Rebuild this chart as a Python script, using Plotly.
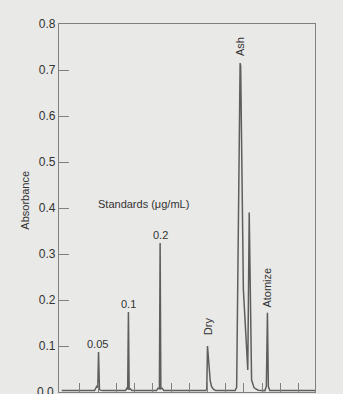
import plotly.graph_objects as go

# Time (arbitrary units, one minor tick per unit) and absorbance trace
time = [0.0, 1.80, 1.92, 1.98, 2.02, 2.04, 2.07, 2.12, 2.25,
        3.50, 3.57, 3.62, 3.66, 3.70, 3.76, 3.85,
        5.20, 5.28, 5.36, 5.40, 5.44, 5.52, 5.60,
        7.90, 7.96, 8.00, 8.05, 8.09, 8.15, 8.22, 8.32, 8.45,
        9.52, 9.60, 9.70, 9.79, 9.82, 9.92, 9.97, 10.07, 10.16, 10.21,
        10.29, 10.42, 10.56, 10.78,
        11.15, 11.23, 11.29, 11.34, 11.42, 13.9]
absorbance = [0.003, 0.003, 0.012, 0.010, 0.087, 0.010, 0.006, 0.004, 0.003,
              0.003, 0.008, 0.006, 0.174, 0.006, 0.007, 0.003,
              0.003, 0.008, 0.007, 0.324, 0.007, 0.008, 0.003,
              0.003, 0.006, 0.100, 0.068, 0.046, 0.024, 0.012, 0.006, 0.003,
              0.003, 0.010, 0.417, 0.715, 0.709, 0.417, 0.222, 0.150, 0.091, 0.048,
              0.390, 0.026, 0.009, 0.004,
              0.003, 0.012, 0.172, 0.012, 0.003, 0.003]

y_ticks = [0.0, 0.1, 0.2, 0.3, 0.4, 0.5, 0.6, 0.7, 0.8]
y_tick_labels = ["0.0", "0.1", "0.2", "0.3", "0.4", "0.5", "0.6", "0.7", "0.8"]
x_ticks = list(range(1, 14))

standard_labels = ["0.05", "0.1", "0.2"]
standard_x = [1.99, 3.64, 5.40]
standard_y = [0.104, 0.191, 0.341]

step_labels = ["Dry", "Ash", "Atomize"]
step_x = [8.0, 9.79, 11.29]
step_y = [0.142, 0.75, 0.228]

font = "Liberation Sans, Arial, sans-serif"
ink = "#333333"
paper = "#e9e9e7"

fig = go.Figure()
fig.add_trace(go.Scatter(x=time, y=absorbance, mode="lines",
                         line=dict(color="#5e5e5e", width=1.5),
                         hoverinfo="skip", showlegend=False))

for t, x, y in zip(standard_labels, standard_x, standard_y):
    fig.add_annotation(x=x, y=y, text=t, showarrow=False,
                       font=dict(family=font, size=11, color=ink))
fig.add_annotation(x=1.87, y=0.409, text="Standards (\u03bcg/mL)", showarrow=False,
                   xanchor="left", font=dict(family=font, size=11, color=ink))
for t, x, y in zip(step_labels, step_x, step_y):
    fig.add_annotation(x=x, y=y, text=t, showarrow=False, textangle=-90,
                       font=dict(family=font, size=11, color=ink))

fig.add_annotation(xref="paper", yref="paper", x=-0.164, y=0.52, text="Absorbance",
                   showarrow=False, textangle=-90,
                   font=dict(family=font, size=11, color=ink))

# bottom tick label (partly cut by the page edge, as in the reference)
fig.add_annotation(xref="paper", yref="y", x=-0.012, y=y_ticks[0], text=y_tick_labels[0],
                   showarrow=False, xanchor="right", yanchor="middle",
                   font=dict(family=font, size=12, color=ink))

fig.update_layout(
    width=343, height=394,
    margin=dict(l=59, r=28, t=24, b=2),
    paper_bgcolor=paper, plot_bgcolor=paper,
    xaxis=dict(range=[-0.15, 13.9], tickvals=x_ticks, ticks="inside", ticklen=9,
               tickcolor="#808080", tickwidth=1, showticklabels=False,
               showgrid=False, zeroline=False, showline=True, linecolor="#808080",
               linewidth=1.3, mirror=True),
    yaxis=dict(range=[0, 0.8], tickvals=y_ticks, ticktext=y_tick_labels,
               ticks="inside", ticklen=10, tickcolor="#808080", tickwidth=1.2,
               showgrid=False, zeroline=False, showline=True, linecolor="#808080",
               linewidth=1.3, mirror=True,
               tickfont=dict(family=font, size=12, color=ink)),
)

fig.write_html("out.html", config={"displayModeBar": False},
               post_script="document.body.style.margin='0';"
                           "document.body.style.overflow='hidden';"
                           "document.body.style.background='#e9e9e7';")
